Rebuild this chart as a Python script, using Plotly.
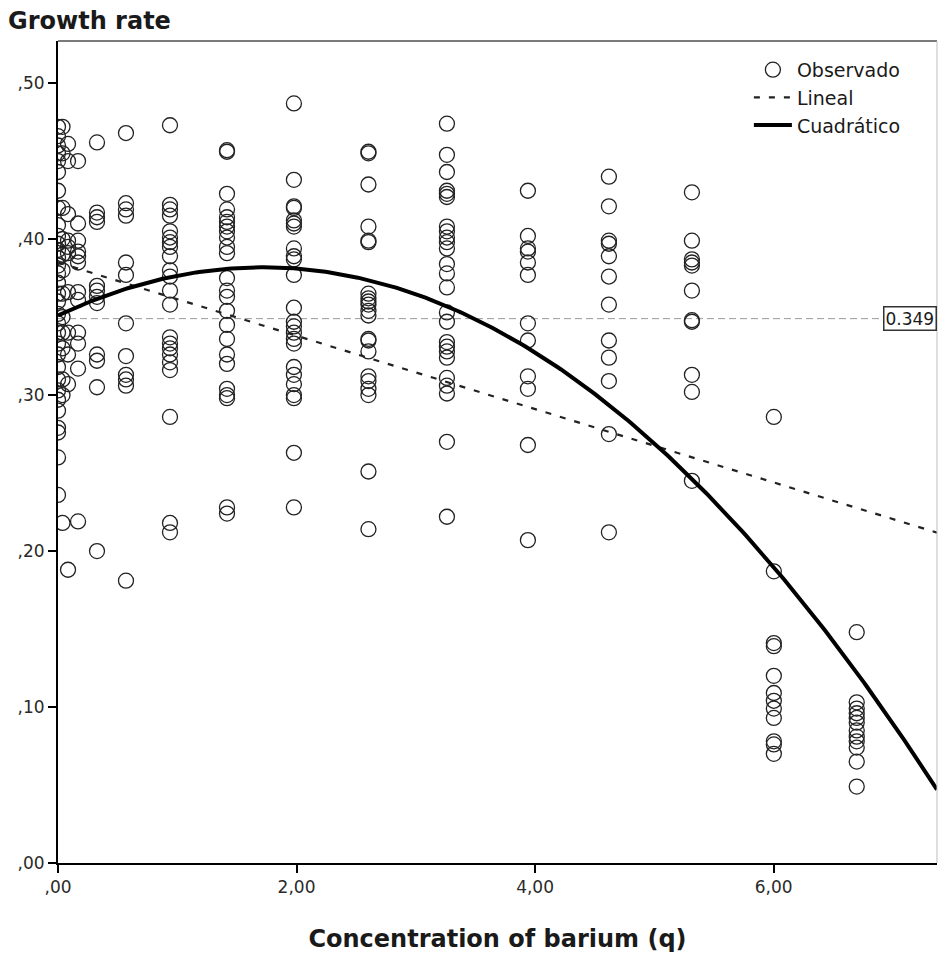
import numpy as np
import plotly.graph_objects as go

# Concentration levels (x) and observed growth rates at each level
conc_levels = [0.0, 0.038, 0.084, 0.168, 0.327, 0.570, 0.939, 1.417,
               1.978, 2.603, 3.261, 3.940, 4.619, 5.315, 6.002, 6.697]

g_c00 = [0.472, 0.466, 0.460, 0.455, 0.450, 0.443, 0.431, 0.420, 0.409,
         0.402, 0.397, 0.393, 0.388, 0.383, 0.378, 0.372, 0.365, 0.360,
         0.352, 0.346, 0.340, 0.333, 0.326, 0.318, 0.310, 0.303, 0.297,
         0.290, 0.279, 0.276, 0.260, 0.236]
g_c01 = [0.472, 0.455, 0.420, 0.400, 0.390, 0.380, 0.365, 0.350, 0.340,
         0.330, 0.310, 0.300, 0.218]
g_c02 = [0.461, 0.450, 0.416, 0.399, 0.395, 0.391, 0.366, 0.340, 0.326,
         0.307, 0.188]
g_c03 = [0.450, 0.410, 0.399, 0.392, 0.389, 0.385, 0.366, 0.361, 0.340,
         0.333, 0.317, 0.219]
g_c04 = [0.462, 0.417, 0.414, 0.411, 0.370, 0.367, 0.363, 0.359, 0.326,
         0.322, 0.305, 0.200]
g_c05 = [0.468, 0.423, 0.419, 0.415, 0.385, 0.377, 0.346, 0.325, 0.313,
         0.310, 0.306, 0.181]
g_c06 = [0.473, 0.422, 0.419, 0.415, 0.405, 0.401, 0.398, 0.395, 0.389,
         0.380, 0.376, 0.367, 0.358, 0.337, 0.333, 0.330, 0.326, 0.321,
         0.316, 0.286, 0.218, 0.212]
g_c07 = [0.457, 0.456, 0.429, 0.419, 0.414, 0.411, 0.408, 0.405, 0.401,
         0.395, 0.391, 0.375, 0.367, 0.363, 0.354, 0.345, 0.336, 0.326,
         0.320, 0.304, 0.300, 0.298, 0.228, 0.224]
g_c08 = [0.487, 0.438, 0.421, 0.420, 0.412, 0.410, 0.408, 0.394, 0.389,
         0.387, 0.377, 0.356, 0.347, 0.344, 0.340, 0.336, 0.333, 0.318,
         0.313, 0.307, 0.300, 0.298, 0.263, 0.228]
g_c09 = [0.456, 0.455, 0.435, 0.408, 0.399, 0.398, 0.365, 0.362, 0.360,
         0.358, 0.354, 0.351, 0.336, 0.335, 0.328, 0.312, 0.309, 0.304,
         0.300, 0.251, 0.214]
g_c10 = [0.474, 0.454, 0.443, 0.431, 0.429, 0.427, 0.408, 0.405, 0.401,
         0.398, 0.394, 0.384, 0.378, 0.369, 0.353, 0.347, 0.334, 0.331,
         0.328, 0.324, 0.311, 0.306, 0.301, 0.270, 0.222]
g_c11 = [0.431, 0.402, 0.394, 0.392, 0.385, 0.377, 0.346, 0.335, 0.312,
         0.304, 0.268, 0.207]
g_c12 = [0.440, 0.421, 0.399, 0.397, 0.389, 0.376, 0.358, 0.335, 0.324,
         0.309, 0.275, 0.212]
g_c13 = [0.430, 0.399, 0.387, 0.385, 0.383, 0.367, 0.348, 0.347, 0.313,
         0.302, 0.245]
g_c14 = [0.286, 0.187, 0.141, 0.139, 0.120, 0.109, 0.104, 0.099, 0.093,
         0.078, 0.076, 0.070]
g_c15 = [0.148, 0.103, 0.099, 0.096, 0.093, 0.090, 0.085, 0.081, 0.078,
         0.074, 0.065, 0.049]

growth_by_level = [g_c00, g_c01, g_c02, g_c03, g_c04, g_c05, g_c06, g_c07,
                   g_c08, g_c09, g_c10, g_c11, g_c12, g_c13, g_c14, g_c15]

# Fitted models (intercept first) and the mean growth rate
linear_coef = [0.385, -0.0235]
quad_coef = [0.351, 0.0360, -0.01048]
mean_growth = 0.349

x_ticks = [0, 2, 4, 6]
x_tick_labels = [",00", "2,00", "4,00", "6,00"]
y_ticks = [0.0, 0.1, 0.2, 0.3, 0.4, 0.5]
y_tick_labels = [",00", ",10", ",20", ",30", ",40", ",50"]

X_MAX = 7.37
Y_MAX = 0.527

obs_x = [c for c, vals in zip(conc_levels, growth_by_level) for _ in vals]
obs_y = [v for vals in growth_by_level for v in vals]

fit_x = np.linspace(0, X_MAX, 300)
lin_y = np.polynomial.polynomial.polyval(fit_x, linear_coef)
quad_y = np.polynomial.polynomial.polyval(fit_x, quad_coef)

INK = "#1a1a1a"
FONT = "DejaVu Sans"

fig = go.Figure()
fig.add_trace(go.Scatter(
    x=obs_x, y=obs_y, mode="markers", name="Observado",
    marker=dict(symbol="circle-open", size=15, color="#222222",
                line=dict(width=1.3, color="#222222")),
))
fig.add_trace(go.Scatter(
    x=fit_x, y=lin_y, mode="lines", name="Lineal",
    line=dict(color="#222222", width=2.2, dash="6px,9px"),
))
fig.add_trace(go.Scatter(
    x=fit_x, y=quad_y, mode="lines", name="Cuadrático",
    line=dict(color="black", width=4),
))

# Mean reference line with its value label at the right edge
fig.add_shape(type="line", xref="paper", x0=0, x1=1, yref="y",
              y0=mean_growth, y1=mean_growth, layer="below",
              line=dict(color="#9a9a9a", width=1, dash="7px,4px"))
fig.add_annotation(xref="paper", x=1, xanchor="right", yref="y",
                   y=mean_growth, yanchor="middle",
                   text=f"{mean_growth:.3f}", showarrow=False,
                   font=dict(family=FONT, size=17, color=INK),
                   bgcolor="white", bordercolor="#333333", borderwidth=1.5,
                   borderpad=1)

# Frame: top and right borders
fig.add_shape(type="line", xref="paper", yref="paper", x0=0, x1=1, y0=1, y1=1,
              line=dict(color="#7a7a7a", width=2))
fig.add_shape(type="line", xref="paper", yref="paper", x0=1, x1=1, y0=0, y1=1,
              line=dict(color="#bdbdbd", width=1))

axis_common = dict(
    showgrid=False, zeroline=False, showline=True, linecolor="black",
    linewidth=2, ticks="outside", ticklen=8, tickwidth=2, tickcolor="black",
    tickfont=dict(family=FONT, size=17, color="#2a2a2a"),
)

fig.update_layout(
    width=938, height=958,
    margin=dict(l=58, r=1, t=41, b=95),
    paper_bgcolor="white", plot_bgcolor="white",
    title=dict(text="Growth rate", xref="container", yref="container",
               x=8 / 938, xanchor="left", y=1 - 21 / 958, yanchor="middle",
               font=dict(family=FONT, size=24, color=INK, weight="bold")),
    xaxis=dict(range=[0, X_MAX], tickvals=x_ticks, ticktext=x_tick_labels,
               title=dict(text="Concentration of barium (q)", standoff=34,
                          font=dict(family=FONT, size=24, color=INK,
                                    weight="bold")),
               **axis_common),
    yaxis=dict(range=[0, Y_MAX], tickvals=y_ticks, ticktext=y_tick_labels,
               **axis_common),
    legend=dict(x=0.786, xanchor="left", y=0.988, yanchor="top",
                bgcolor="rgba(0,0,0,0)", borderwidth=0,
                font=dict(family=FONT, size=19, color=INK),
                itemwidth=38),
    showlegend=True,
)

fig.write_html("out.html")
